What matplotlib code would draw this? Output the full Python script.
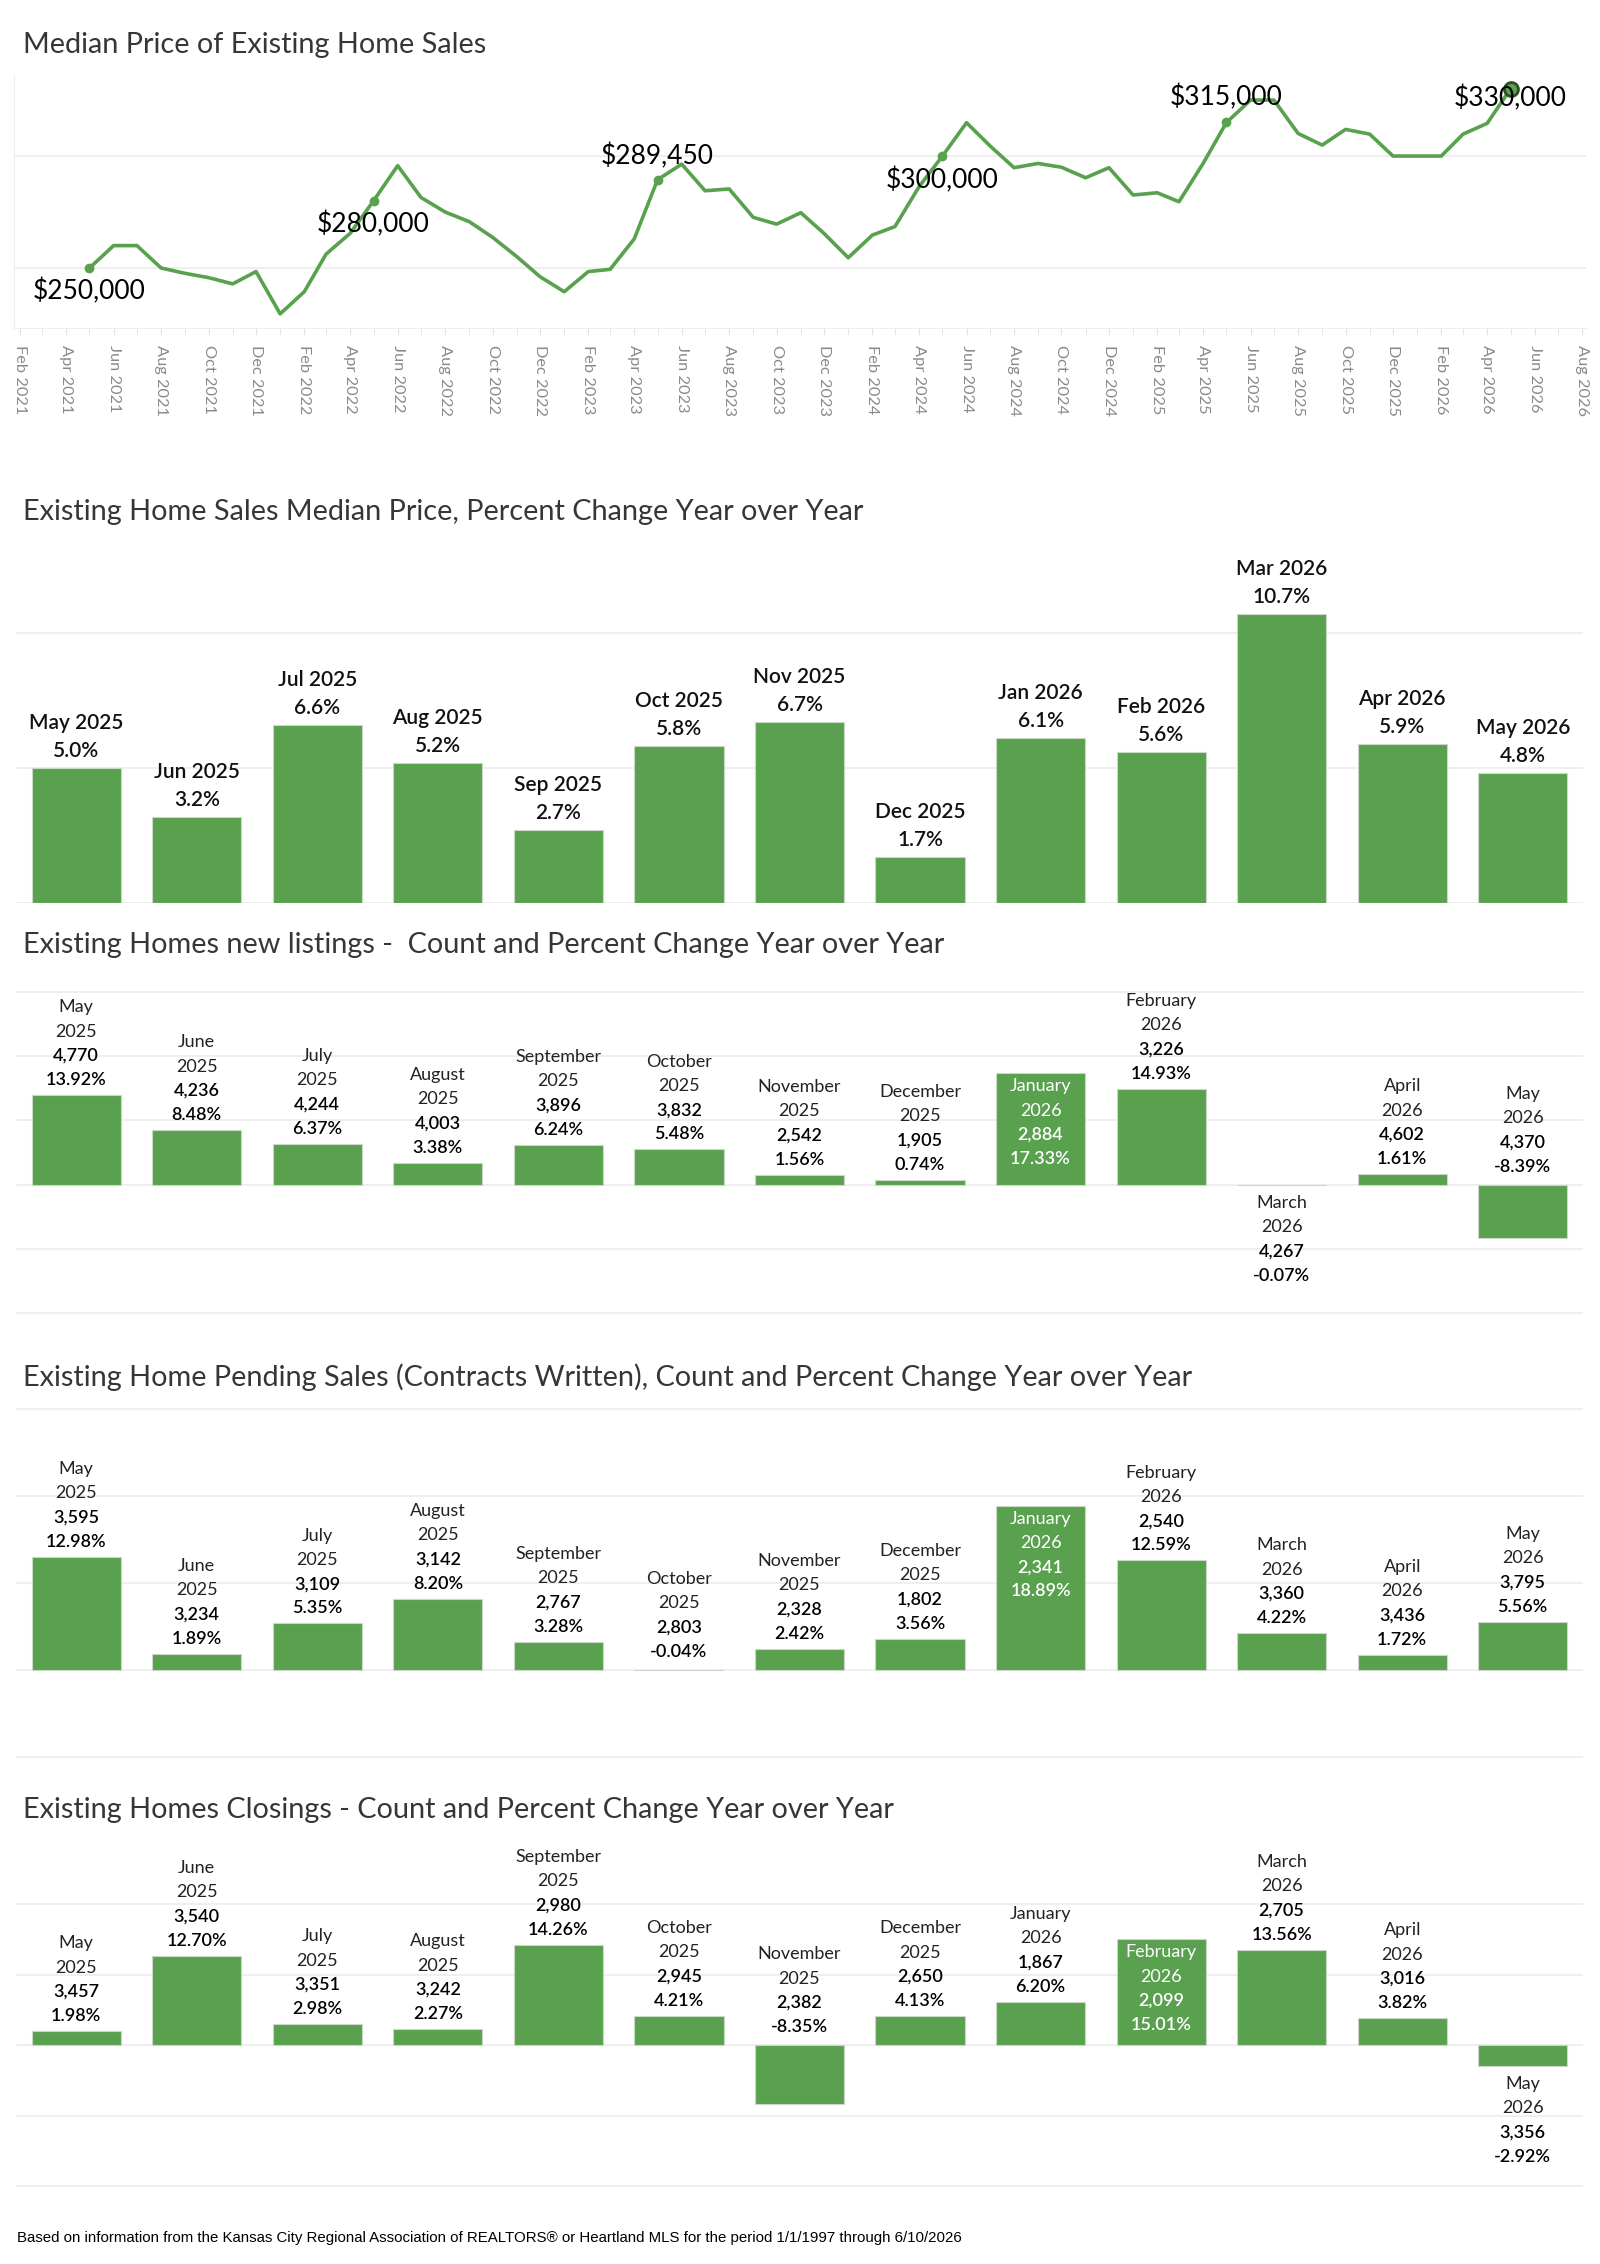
import numpy as np
import pandas as pd
import matplotlib
matplotlib.use('Agg')
import matplotlib.pyplot as plt
from matplotlib import rcParams

rcParams['font.family'] = ['Lato', 'DejaVu Sans']

GREEN = '#59a14f'
EDGE = '#c9d9c5'
GRID = '#ececec'
W, H = 1600, 2264

# ---- data ----
price_start = '2021-05-01'
median_price = [
    250000, 260000, 260000, 250000, 247600, 245700, 242900, 248400,
    229500, 239400, 256200, 265500, 280000, 295700, 281500, 275000, 270700, 263700, 255100, 246100,
    239400, 248400, 249400, 263000, 289450, 296400, 284500, 285300, 272600, 269600, 274700, 265400,
    254600, 264700, 268500, 286300, 300000, 314900, 304600, 294800, 296700, 295000, 290300, 294800,
    282600, 283600, 279600, 296700, 315000, 325000, 325000, 310100, 304900, 311900, 309800, 300000,
    300000, 300000, 309800, 314600, 330000,
]

pct_months = ['May 2025', 'Jun 2025', 'Jul 2025', 'Aug 2025', 'Sep 2025', 'Oct 2025', 'Nov 2025',
              'Dec 2025', 'Jan 2026', 'Feb 2026', 'Mar 2026', 'Apr 2026', 'May 2026']
price_pct = [5.0, 3.2, 6.6, 5.2, 2.7, 5.8, 6.7, 1.7, 6.1, 5.6, 10.7, 5.9, 4.8]

month_names = ['May', 'June', 'July', 'August', 'September', 'October', 'November',
               'December', 'January', 'February', 'March', 'April', 'May']
month_years = [2025] * 8 + [2026] * 5

listings_count = [4770, 4236, 4244, 4003, 3896, 3832, 2542, 1905, 2884, 3226, 4267, 4602, 4370]
listings_pct = [13.92, 8.48, 6.37, 3.38, 6.24, 5.48, 1.56, 0.74, 17.33, 14.93, -0.07, 1.61, -8.39]

pending_count = [3595, 3234, 3109, 3142, 2767, 2803, 2328, 1802, 2341, 2540, 3360, 3436, 3795]
pending_pct = [12.98, 1.89, 5.35, 8.20, 3.28, -0.04, 2.42, 3.56, 18.89, 12.59, 4.22, 1.72, 5.56]

closings_count = [3457, 3540, 3351, 3242, 2980, 2945, 2382, 2650, 1867, 2099, 2705, 3016, 3356]
closings_pct = [1.98, 12.70, 2.98, 2.27, 14.26, 4.21, -8.35, 4.13, 6.20, 15.01, 13.56, 3.82, -2.92]

titles = [
    'Median Price of Existing Home Sales',
    'Existing Home Sales Median Price, Percent Change Year over Year',
    'Existing Homes new listings -  Count and Percent Change Year over Year',
    'Existing Home Pending Sales (Contracts Written), Count and Percent Change Year over Year',
    'Existing Homes Closings - Count and Percent Change Year over Year',
]
footer = ('Based on information from the Kansas City Regional Association of REALTORS\u00ae '
          'or Heartland MLS for the period 1/1/1997 through 6/10/2026')

fig = plt.figure(figsize=(16, 22.64), dpi=100)


def px_axes(left, top, right, bottom):
    return fig.add_axes([left / W, 1 - bottom / H, (right - left) / W, (bottom - top) / H])


def title(y, s):
    fig.text(23 / W, 1 - y / H, s, ha='left', va='center', fontsize=20.8,
             fontweight='normal', color='#363636')


def clean(ax):
    for s in ax.spines.values():
        s.set_visible(False)
    ax.tick_params(left=False, bottom=False, labelleft=False, labelbottom=False)


# ---- line chart ----
ax0 = px_axes(14, 75, 1586, 328)
dates = pd.date_range(price_start, periods=len(median_price), freq='MS')
prices = np.array(median_price)
ax0.plot(dates, prices, color=GREEN, lw=2.6, solid_joinstyle='round', zorder=3)
may = dates.month == 5
ax0.plot(dates[may], prices[may], 'o', color=GREEN, ms=6, zorder=4)
ax0.plot(dates[-1:], prices[-1:], 'o', ms=10, mfc=GREEN, mec='#2e4a29', mew=2, zorder=5)

offsets = [-23, -23, 23, -24, 25, -9]
for (d, p), dy in zip(zip(dates[may], prices[may]), offsets):
    ax0.annotate(f'${p:,.0f}', (d, p), xytext=(0, dy), textcoords='offset pixels',
                 ha='center', va='center', fontsize=19, color='black', zorder=6)

ax0.set_xlim(pd.Timestamp('2021-02-01') - pd.Timedelta(days=8),
             pd.Timestamp('2026-08-01') + pd.Timedelta(days=5))
ax0.set_ylim(223200, 336200)
ticks = pd.date_range('2021-02-01', '2026-08-01', freq='2MS')
ax0.set_xticks(ticks)
ax0.set_xticklabels([t.strftime('%b %Y') for t in ticks], rotation=-90)
ax0.set_xticks(pd.date_range('2021-02-01', '2026-08-01', freq='MS'), minor=True)
ax0.tick_params(axis='x', which='both', length=5, color='#e2e2e2', labelcolor='#8a8a8a',
                labelsize=11.8, pad=7)
ax0.set_yticks([250000, 300000])
ax0.tick_params(axis='y', left=False, labelleft=False)
ax0.grid(axis='y', color=GRID, lw=1.2)
ax0.set_axisbelow(True)
for side in ['top', 'right']:
    ax0.spines[side].set_visible(False)
ax0.spines['left'].set_color('#eeeeee')
ax0.spines['bottom'].set_color('#eeeeee')

# ---- percent change bar chart ----
x = np.arange(len(pct_months))
ax1 = px_axes(16, 558, 1583, 903)
ax1.bar(x, price_pct, width=0.74, color=GREEN, edgecolor=EDGE, lw=0.8, zorder=3)
ax1.set_xlim(-0.5, 12.5)
ax1.set_ylim(0, 12.78)
ax1.set_yticks([0, 5, 10])
ax1.grid(axis='y', color=GRID, lw=1.2)
ax1.set_axisbelow(True)
clean(ax1)
for i, v in enumerate(price_pct):
    for k, s in enumerate([pct_months[i], f'{v:.1f}%']):
        ax1.annotate(s, (i, v), xytext=(0, 17 + (1 - k) * 28), textcoords='offset pixels',
                     ha='center', va='center', fontsize=15, fontweight='semibold',
                     color='#111111')


# ---- count charts ----
STEP = 24.3


def count_chart(top, bottom, ylo, yhi, grid_ticks, counts, pcts):
    ax = px_axes(16, top, 1583, bottom)
    ax.bar(x, pcts, width=0.74, color=GREEN, edgecolor=EDGE, lw=0.8, zorder=3)
    ax.set_xlim(-0.5, 12.5)
    ax.set_ylim(ylo, yhi)
    ax.set_yticks(grid_ticks)
    ax.grid(axis='y', color=GRID, lw=1.2)
    ax.set_axisbelow(True)
    clean(ax)
    ppu = (bottom - top) / (yhi - ylo)
    imax = int(np.argmax(pcts))
    for i, v in enumerate(pcts):
        lines = [(month_names[i], 'normal'), (str(month_years[i]), 'normal'),
                 (f'{counts[i]:,}', 'semibold'), (f'{v:.2f}%', 'semibold')]
        if i == imax:
            y0 = v
            offs = [-13 - k * STEP for k in range(4)]
        elif v >= 0:
            y0 = v
            offs = [15 + (3 - k) * STEP for k in range(4)]
        elif (0 - ylo) * ppu >= -v * ppu + 18 + 3 * STEP + 8:
            y0 = v
            offs = [-18 - k * STEP for k in range(4)]
        else:
            y0 = 0
            offs = [18 + (3 - k) * STEP for k in range(4)]
        for (s, wt), dy in zip(lines, offs):
            if i == imax:
                color = 'white'
            else:
                color = 'black' if wt != 'normal' else '#222222'
            ax.annotate(s, (i, y0), xytext=(0, dy), textcoords='offset pixels',
                        ha='center', va='center', fontsize=13, fontweight=wt,
                        color=color, zorder=5)
    return ax


count_chart(991, 1314, -20.15, 30.15, [-20, -10, 0, 10, 20, 30], listings_count, listings_pct)
count_chart(1408, 1758, -10.1, 30.1, [-10, 0, 10, 20, 30], pending_count, pending_pct)
count_chart(1850, 2187, -20.1, 27.7, [-20, -10, 0, 10, 20], closings_count, closings_pct)

for y, s in zip([45, 512, 945, 1377, 1810], titles):
    title(y, s)

fig.text(17 / W, 1 - 2238 / H, footer, ha='left', va='center', fontsize=10.8,
         family=['Liberation Sans Narrow', 'Liberation Sans', 'DejaVu Sans'], color='black')

fig.savefig('out.png', dpi=100, facecolor='white')
